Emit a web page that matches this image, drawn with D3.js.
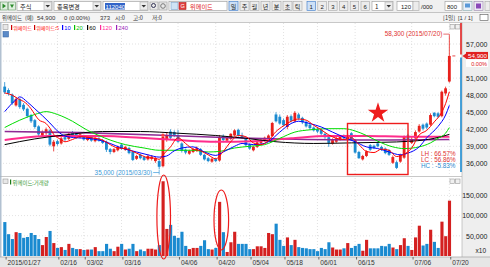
<!DOCTYPE html>
<html><head><meta charset="utf-8">
<script src="https://cdn.jsdelivr.net/npm/d3@7"></script>
<style>body{margin:0;background:#fff}svg{display:block;font-family:"Liberation Sans","Noto Sans CJK KR",sans-serif}</style>
</head><body><svg id="c" width="490" height="267"></svg>
<script>
// ---------------- data ----------------
const tickIndex  = [0,14,21,31,46,56,65,74,83,93,108,118];
const tickLabels = ["2015/01/27","02/16","03/02","03/16","04/06","04/20","05/04","05/18","06/01","06/15","07/06","07/20"];
const priceTicks = [36000,39000,42000,45000,48000,51000,54000,57000];
const priceLabelTicks = [36000,39000,42000,45000,48000,51000,57000]; // 54,000 is hidden under the current-price tag
const volTicks   = [50000,100000,150000];

const open = [
49500,48900,48100,46200,47300,46300,45600,44500,43600,42500,
40900,41300,41800,39000,39900,39500,40600,40300,41400,41200,
40600,40900,40100,40600,39900,40400,40100,39800,38500,38000,
38300,39300,38400,38700,38000,36800,37500,37100,36700,36800,
36400,36400,35500,40200,41600,41500,41000,39500,38400,37700,
38000,38200,38500,37500,36900,36300,36800,36500,40800,40000,
40300,40900,41900,40900,40300,39300,38300,38900,39600,40000,
40400,40800,44600,44200,43600,42400,44300,43400,44600,44000,
43300,42800,42300,42000,41900,41200,40600,39500,39800,40200,
40900,40300,41300,40100,38000,36700,37300,39200,39100,39500,
38900,38600,38300,36100,36200,36300,37000,40900,39600,40400,
41600,42800,43000,42800,44900,44800,44300,48300,50400];
const high = [
50300,49200,48300,47600,47500,46600,45800,44700,43800,42700,
41800,42300,42000,40100,40200,40700,40900,41500,41700,41400,
41300,41000,40900,40800,40700,40600,40300,40000,38700,38700,
39100,39500,39100,38900,38200,37500,37700,37300,37600,37400,
37100,36600,40700,41500,42000,41800,41900,39700,38600,38400,
38700,39000,38700,37700,37100,37000,37000,41000,41100,40800,
41300,42000,42100,41400,40500,39500,39100,39900,40300,40700,
41100,43300,45000,44600,43900,44500,44600,45200,44900,44200,
43500,43000,42500,42300,42100,41400,40800,40400,40700,41000,
41100,41300,41500,40300,38200,37500,38300,39400,39300,39800,
39100,38800,38500,37400,36500,37700,40900,41200,40600,41800,
42900,43000,43200,44800,45000,45000,48800,49500,58300];
const low = [
48200,47900,46300,46000,45600,45200,44000,43100,42100,40800,
40700,41000,39000,38100,39100,39300,39900,40100,40700,40300,
40400,40000,39900,39800,39700,39800,39400,38000,37600,37800,
38100,38400,38200,37600,36400,36600,36700,36400,36500,36500,
36100,35000,35300,39800,40200,40600,39600,37900,37600,37500,
37800,38000,37300,36500,36200,36100,36200,36300,39700,39700,
40100,40700,40700,40300,39000,38400,38100,38700,39400,39800,
40200,40600,43200,42800,42500,42000,43200,43200,43600,42900,
42300,41900,41600,41300,40900,40300,38900,39300,39600,40000,
40200,40100,40000,37700,36800,36500,37100,38200,38500,38800,
38200,37600,37300,35900,35000,36100,36800,39900,39400,40200,
41400,41800,42000,42600,44100,44000,44100,47900,50200];
const close = [
48500,48300,46600,47300,45900,45500,44300,43400,42400,41100,
41500,42000,39300,39800,39400,40400,40200,41200,40900,40500,
41100,40200,40700,40000,40500,40000,39600,38400,38000,38500,
38900,38600,38900,37800,36600,37300,36900,36600,37300,37200,
36900,35400,40700,40900,40500,40900,39800,38200,37900,38200,
38500,38700,37500,36700,36400,36800,36400,40600,40100,40500,
41200,41800,40900,40500,39200,38600,38900,39700,40100,40500,
40900,43100,43400,43000,42700,44200,43500,44900,43900,43200,
42500,42200,41800,41600,41200,40600,39600,40100,40400,40700,
40400,41000,40200,37900,36900,37300,38100,38400,38700,39000,
38400,37800,37500,37100,35200,37500,40700,40100,40300,41500,
42600,42100,42300,44500,44300,44200,48600,49200,54900];
const volume = [
84000,54000,42000,59000,57000,45000,47000,57000,52000,42000,
27000,47000,62000,32000,20000,22000,15000,30000,20000,17000,
17000,15000,16000,16000,22000,12000,12000,30000,18000,12000,
23000,30000,16000,18000,30000,12000,16000,12000,18000,18000,
16000,27000,185000,67000,77000,50000,45000,60000,25000,17000,
20000,20000,25000,39000,17000,16000,20000,134000,59000,10000,
34000,60000,30000,30000,30000,17000,17000,24000,24000,20000,
57000,54000,80000,40000,25000,46000,27000,40000,22000,20000,
19000,17000,17000,12000,20000,17000,34000,21000,16000,16000,
19000,32000,20000,25000,30000,13000,40000,19000,19000,19000,
25000,24000,30000,21000,17000,27000,44000,25000,15000,46000,
75000,26000,30000,65000,35000,20000,85000,49000,137000];

// moving averages: [bar index, value]
const ma5 = [[0,48400],[2,48000],[4,47200],[5,46900],[7,45600],[8,44600],[9,43700],[11,43000],[12,42200],[13,41100],[15,40200],[16,39800],[18,40200],[20,40700],[22,40600],[24,40400],[26,40100],[28,39300],[30,38700],[32,38600],[34,38100],[36,37500],[38,37000],[40,36900],[41,36700],[42,37500],[44,38900],[46,40500],[48,39500],[50,38500],[52,38200],[54,37500],[56,36800],[58,38100],[60,39800],[62,40900],[64,40700],[66,39600],[68,39300],[70,40000],[72,41600],[74,42600],[76,43400],[78,43800],[80,43600],[82,42700],[84,41900],[86,41000],[88,40400],[90,40200],[92,40500],[94,39300],[96,38100],[98,37900],[100,38500],[102,38300],[104,37200],[106,37600],[108,38700],[110,41000],[112,41800],[114,43300],[116,45000],[117,46500],[118,48600]];
const ma10 = [[0,45100],[3,47200],[4,47700],[6,46800],[8,45600],[10,44400],[12,43100],[14,41700],[16,40800],[19,40500],[22,40400],[25,40100],[28,39500],[31,38700],[35,38000],[38,37500],[41,37100],[43,37300],[45,38200],[47,38700],[50,38900],[53,38000],[56,37400],[58,38000],[61,39000],[63,39500],[66,39300],[68,39400],[70,39800],[73,41500],[76,43000],[78,43400],[81,43000],[84,42400],[87,41500],[90,40600],[93,39800],[96,38900],[99,38600],[102,38000],[105,37500],[107,37800],[110,38900],[112,40500],[115,42500],[117,44500],[118,46200]];
const ma20 = [[0,42300],[4,43600],[8,44600],[11,45100],[14,44600],[18,43400],[22,41800],[25,40900],[28,40100],[32,39300],[37,38700],[41,38300],[46,38300],[50,38300],[54,38000],[57,38100],[61,38700],[65,39000],[69,39300],[73,40400],[77,41500],[81,41900],[86,42100],[90,42100],[93,41700],[96,40900],[99,39900],[103,38900],[106,38600],[110,38900],[113,39600],[115,40400],[117,41300],[118,42300]];
const ma60 = [[0,39300],[8,40300],[16,41000],[26,41600],[36,41600],[46,41300],[56,40900],[64,40400],[72,39800],[82,39500],[92,39600],[100,39700],[108,39900],[114,40400],[118,41100]];
const ma120 = [[0,40100],[12,40800],[26,40800],[36,40500],[46,40100],[56,39800],[66,39900],[76,40400],[86,40800],[96,40800],[106,40700],[118,40700]];
const ma240 = [[0,41600],[20,41400],[40,41000],[60,40500],[80,40200],[100,40100],[118,40200]];

const lastClose = 54900, highVal = 58300, lowVal = 35000, highIdx = 118, lowIdx = 41;

// ---------------- drawing ----------------
const svg = d3.select("#c");
const KR = "'Noto Sans CJK KR',sans-serif";
function box(x,y,w,h,fill,stroke){return svg.append("rect").attr("x",x).attr("y",y).attr("width",w).attr("height",h).attr("fill",fill).attr("stroke",stroke||"none").attr("stroke-width",0.6);}
function txt(x,y,s,size,col,anchor,fam){return svg.append("text").attr("x",x).attr("y",y).text(s).attr("font-size",size).attr("fill",col||"#222").attr("text-anchor",anchor||"start").attr("font-family",fam||null);}

// toolbar
box(0,0,490,12.5,"#f0f0f0");
svg.append("line").attr("x1",0).attr("x2",490).attr("y1",12.5).attr("y2",12.5).attr("stroke","#c4c4c4");
box(0.5,2,7,8,"#dff0df","#6a9a6a"); svg.append("path").attr("d","M2.5,3.5L6,6L2.5,8.5Z").attr("fill","#2a8a2a");
box(8.5,2,7,8,"#dff0df","#6a9a6a"); svg.append("path").attr("d","M10,4.5L14,4.5L12,8Z").attr("fill","#2a8a2a");
function combo(x,w,label,lc){box(x,1.5,w,9,"#fff","#9a9a9a"); box(x+w-8,2,7.5,8,"#ececec","#b0b0b0");
  svg.append("path").attr("d",`M${x+w-6.5},5L${x+w-2},5L${x+w-4.25},7.5Z`).attr("fill","#333");
  txt(x+3,8.6,label,6.2,lc||"#222","start",KR);}
combo(17,35,"주식"); combo(54,47,"종목변경");
combo(103,45,"");
box(105,3,20,6.5,"#3264c8"); txt(105.5,8.5,"112040",6,"#fff");
box(150,2,8,8,"#e8e8e8","#9a9a9a"); svg.append("circle").attr("cx",153.5).attr("cy",5.5).attr("r",2).attr("fill","none").attr("stroke","#335");
box(159,2,8,8,"#e8e8e8","#9a9a9a"); svg.append("circle").attr("cx",163).attr("cy",6).attr("r",2.3).attr("fill","none").attr("stroke","#777");
box(169,1.5,58,9,"#fff","#9a9a9a"); box(171,2.5,7,7,"#cfe3f5","#7aa0c8"); box(179,2.5,7,7,"#e04040","#b02020");
txt(180.5,8.3,"G",5.5,"#fff"); txt(190,8.6,"위메이드",6.2,"#e02020","start",KR);
const btns=[["일",229,true],["주",240],["월",250],["년",261],["분",272],["초",283],["틱",293]];
btns.forEach(b=>{box(b[1],1.5,9,9,b[2]?"#cde0f7":"#ececec",b[2]?"#3a78c8":"#a8a8a8"); txt(b[1]+4.5,8.6,b[0],6,"#222","middle",KR);});
["1","2","3","4","5","6"].forEach((n,i)=>{const xx=307+i*10.8; box(xx,1.5,8.5,9,i===0?"#cde0f7":"#ececec",i===0?"#3a78c8":"#a8a8a8"); txt(xx+4.25,8.6,n,6,"#222","middle");});
combo(372,21,"1");
box(397,1.5,16,9,"#fff","#9a9a9a"); txt(411,8.6,"120",6,"#222","end");
box(413,1.5,6,9,"#ececec","#a8a8a8"); txt(421,8.6,"/000",6,"#222");
box(445,1.5,17,9,"#fff","#9a9a9a"); txt(447,8.6,"800",6,"#222");
box(463,1.5,9,9,"#e8f0f8","#8aa"); box(465,3.5,5,4,"#5a9ad8"); box(474,1.5,9,9,"#ece8f4","#98a"); box(476,3.5,5,5,"#8a4ab8");
box(485,1.5,5,9,"#ececec","#a8a8a8");

// info row
box(0,13,490,9.5,"#f4f4f4");
svg.append("line").attr("x1",0).attr("x2",490).attr("y1",22.5).attr("y2",22.5).attr("stroke","#c8c8c8");
txt(2,19.8,"위메이드",5.4,"#333","start",KR); txt(25,19.8,"(예)",5.4,"#333","start",KR);
txt(37,19.8,"54,900",6,"#333"); txt(64,19.8,"0",6,"#333"); txt(69,19.8,"(0.00%)",6,"#333");
txt(100,19.8,"373",6,"#333"); txt(115,19.8,"시:0",5.6,"#333","start",KR); txt(133,19.8,"고:0",5.6,"#333","start",KR); txt(152,19.8,"저:0",5.6,"#333","start",KR);
txt(443,19.8,"[1일]",5.6,"#333","start",KR); txt(458,19.8,"[1 / 1]",5.8,"#333"); box(480,14.5,8,6,"#fff","#555");

// scales
const x = d3.scaleBand().domain(d3.range(120)).range([2.8,455]).paddingInner(0.25).paddingOuter(0.125);
const cx = i => x(i) + x.bandwidth()/2;
const yP = d3.scaleLinear().domain([36000,57000]).range([163.35,44]);
const yV = d3.scaleLinear().domain([0,150000]).range([256,195.4]);

// right axis panel & bottom axis strip
box(462,22.5,28,234.5,"#eeeeee");
svg.append("line").attr("x1",462).attr("x2",462).attr("y1",22.5).attr("y2",257).attr("stroke","#a8a8a8").attr("stroke-width",0.6);
box(0,257,490,10,"#e6e6e6");
svg.append("line").attr("x1",0).attr("x2",490).attr("y1",257).attr("y2",257).attr("stroke","#a0a0a0").attr("stroke-width",0.7);
svg.append("line").attr("x1",0).attr("x2",462).attr("y1",176.5).attr("y2",176.5).attr("stroke","#b0b0b0").attr("stroke-width",0.7);
svg.append("line").attr("x1",0.8).attr("x2",0.8).attr("y1",22.5).attr("y2",257).attr("stroke","#9fb2c6").attr("stroke-width",1.2);

// grids
const grid = svg.append("g").attr("stroke","#cfcfcf").attr("stroke-width",0.6).attr("stroke-dasharray","1,2");
priceTicks.forEach(v=>grid.append("line").attr("x1",3).attr("x2",461).attr("y1",yP(v)).attr("y2",yP(v)));
volTicks.forEach(v=>grid.append("line").attr("x1",3).attr("x2",461).attr("y1",yV(v)).attr("y2",yV(v)));
tickIndex.slice(1).forEach(i=>{grid.append("line").attr("x1",cx(i)).attr("x2",cx(i)).attr("y1",23).attr("y2",176);
  grid.append("line").attr("x1",cx(i)).attr("x2",cx(i)).attr("y1",178).attr("y2",256);});

// axes
const pAx = svg.append("g").attr("transform","translate(487.5,0)").call(d3.axisRight(yP).tickValues(priceLabelTicks).tickSize(0).tickPadding(0).tickFormat(d3.format(",")));
pAx.select(".domain").remove(); pAx.selectAll("text").attr("text-anchor","end").attr("font-size",7).attr("fill","#222").attr("font-family","Liberation Sans");
const vAx = svg.append("g").attr("transform","translate(487.5,0)").call(d3.axisRight(yV).tickValues(volTicks).tickSize(0).tickPadding(0).tickFormat(d3.format(",")));
vAx.select(".domain").remove(); vAx.selectAll("text").attr("text-anchor","end").attr("font-size",7).attr("fill","#222").attr("font-family","Liberation Sans");
txt(486,253,"x10",6.5,"#222","end");
const xAx = svg.append("g").attr("transform","translate(0,257)").call(d3.axisBottom(x).tickValues(tickIndex).tickSize(2.5).tickPadding(1).tickFormat(i=>tickLabels[tickIndex.indexOf(i)]));
xAx.select(".domain").remove(); xAx.selectAll("line").attr("stroke","#666").attr("transform",`translate(${x.bandwidth()/2},0)`);
xAx.selectAll("text").attr("text-anchor","start").attr("dx",x.bandwidth()/2+1.5).attr("dy",0).attr("y",7.5).attr("font-size",6.6).attr("fill","#333").attr("font-family","Liberation Sans");

// legends
box(3,24.5,5,5,"#e8e8e8","#999");
const leg=[["위메이드","#ff0000",11],["위메이드:5","#ff0000",34],["10","#0000ff",62],["20","#00c000",74],["60","#000000",87],["120","#ff2c9c",100],["240","#9922bb",116]];
leg.forEach(l=>{box(l[2],25,1.2,5,l[1]==="#ff0000"?"#cc0000":l[1]);
  const isKr = /[가-힣]/.test(l[0]);
  txt(l[2]+2.2,30,l[0],isKr?5.1:5.8,l[1],"start",isKr?KR:"Liberation Sans");});
box(3,31.5,5.5,5.5,"#5a8ac8","#3a6aa8");
box(3,179,5,4.5,"#e8e8e8","#999"); box(10,179.5,1.2,5,"#1a7a1a"); txt(12.5,184.8,"위메이드:거래량",5.4,"#3a9a3a","start",KR);
[[450,24.5],[455.5,24.5],[450,179],[455.5,179]].forEach(p=>box(p[0],p[1],4.5,4.5,"#f0f0f0","#999"));

// colors
const RED="#e8211c", BLUE="#1a8ad0";
const up = i => close[i] >= open[i];

// volume bars
svg.append("g").selectAll("rect").data(volume).join("rect")
  .attr("x",(d,i)=>x(i)).attr("width",x.bandwidth()+0.3)
  .attr("y",d=>yV(d)).attr("height",d=>yV(0)-yV(d))
  .attr("fill",(d,i)=>up(i)?"#d42020":BLUE);

// candles
const cg = svg.append("g");
cg.selectAll("line").data(close).join("line")
  .attr("x1",(d,i)=>cx(i)).attr("x2",(d,i)=>cx(i))
  .attr("y1",(d,i)=>yP(high[i])).attr("y2",(d,i)=>yP(low[i]))
  .attr("stroke",(d,i)=>up(i)?RED:BLUE).attr("stroke-width",0.8);
cg.selectAll("rect").data(close).join("rect")
  .attr("x",(d,i)=>x(i)).attr("width",x.bandwidth())
  .attr("y",(d,i)=>yP(Math.max(open[i],d)))
  .attr("height",(d,i)=>Math.max(0.8,Math.abs(yP(open[i])-yP(d))))
  .attr("fill",(d,i)=>up(i)?RED:BLUE);

// moving averages
const line = d3.line().x(d=>cx(d[0])).y(d=>yP(d[1])).curve(d3.curveMonotoneX);
[[ma240,"#8e2a94",1.6],[ma120,"#ff2c8c",2],[ma60,"#000000",1],[ma20,"#00dd00",1],[ma10,"#0000ff",1],[ma5,"#ff0000",1]]
 .forEach(m=>svg.append("path").attr("d",line(m[0])).attr("fill","none").attr("stroke",m[1]).attr("stroke-width",m[2]));

// upper-limit dot on the 03/31 bar
svg.append("circle").attr("cx",cx(42)).attr("cy",yP(high[42])-1.5).attr("r",1.6).attr("fill","#ff4040");

// high / low annotations
const hx = cx(highIdx), hy = yP(highVal)-2.5;
svg.append("path").attr("d",`M${hx-6},${hy}L${hx},${hy}L${hx},${hy+3}`).attr("fill","none").attr("stroke","#e03030").attr("stroke-width",0.7);
txt(hx-7,hy+2,"58,300 (2015/07/20)",6.4,"#e03030","end");
const lx = cx(lowIdx), ly = yP(lowVal)+3.5;
svg.append("path").attr("d",`M${lx-6},${ly}L${lx},${ly}M${lx},${ly-3}L${lx},${ly+2}`).attr("fill","none").attr("stroke","#3a9ad8").attr("stroke-width",0.7);
txt(lx-7,ly+2,"35,000 (2015/03/30)",6.4,"#3a9ad8","end");

// current price markers
const yc = yP(lastClose);
svg.append("line").attr("x1",461).attr("x2",461).attr("y1",23).attr("y2",yc-1.5).attr("stroke","#e02020").attr("stroke-width",1.6);
svg.append("line").attr("x1",461).attr("x2",461).attr("y1",yc+1.5).attr("y2",172).attr("stroke","#1a8ad0").attr("stroke-width",1.6);
svg.append("line").attr("x1",cx(118)+3).attr("x2",cx(118)+6).attr("y1",yc).attr("y2",yc).attr("stroke","#e02020").attr("stroke-width",0.8);
svg.append("path").attr("d",`M462.5,${yc}L466,${yc-2.5}L466,${yc+2.5}Z`).attr("fill","#e02020");
box(466,yc-4,22,7,"#e02020");
txt(487,yc+1.6,"54,900",6.2,"#fff","end");
box(466,yc+3.5,22,7.5,"#ffffff");
txt(487,yc+10.2,"0.00%",5.6,"#e02020","end");

// LH / LC / HC
txt(421,155.5,"LH : 66.57%",6.3,"#e03030"); txt(421,161.5,"LC : 56.86%",6.3,"#e03030"); txt(421,167.5,"HC : -5.83%",6.3,"#2a8ad0");

// annotations: box, star, ellipses
svg.append("rect").attr("x",347.5).attr("y",123.5).attr("width",60.5).attr("height",51).attr("fill","none").attr("stroke","#ee1c1c").attr("stroke-width",1.4);
svg.append("path").attr("d",d3.symbol(d3.symbolStar,130)()).attr("transform","translate(378,113)").attr("fill","#ee1c1c");
svg.append("ellipse").attr("cx",163.7).attr("cy",217).attr("rx",6.8).attr("ry",42).attr("fill","none").attr("stroke","#ee1c1c").attr("stroke-width",1.2);
svg.append("ellipse").attr("cx",221.3).attr("cy",220).attr("rx",7.3).attr("ry",30).attr("fill","none").attr("stroke","#ee1c1c").attr("stroke-width",1.2);
</script></body></html>
